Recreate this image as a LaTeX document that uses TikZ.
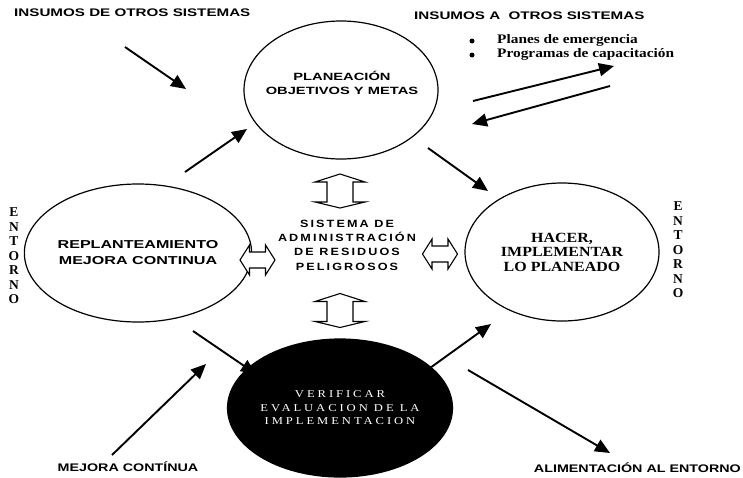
\documentclass[tikz,border=0pt]{standalone}
\usepackage{fontspec}
\setmainfont{Liberation Serif}
\newfontfamily\widesans{Liberation Sans}[FakeStretch=1.38]
\newfontfamily\lowsans{Liberation Sans}[FakeStretch=1.3]
\newfontfamily\ellsans{Liberation Sans}[FakeStretch=1.4]
\newfontfamily\coresans{Liberation Sans}[FakeStretch=1.2,LetterSpace=20]
\newfontfamily\boldserif{Liberation Serif}[FakeStretch=1.14]
\newfontfamily\listserif{Liberation Serif}[FakeStretch=1.18]
\newfontfamily\thinserif{Liberation Serif}[FakeStretch=1.2,LetterSpace=28]
\usetikzlibrary{arrows.meta,shapes.geometric}

\tikzset{
  phase/.style={ellipse, draw, line width=1.2pt, minimum width=194pt,
    minimum height=138pt, inner sep=0pt, align=center},
  corner/.style={inner sep=0pt, font=\widesans\bfseries\fontsize{11}{13}\selectfont},
  lowcorner/.style={inner sep=0pt, font=\lowsans\bfseries\fontsize{11}{13}\selectfont},
  flow/.style={line width=1.9pt, -{Triangle[length=15pt,width=13pt]}},
  hollow/.style={draw, line width=1.1pt, line join=miter, fill=white},
  vdbl/.pic={\path[hollow] (0,-17) -- (25,-9) -- (13,-9) -- (13,11) -- (25,11)
      -- (0,17) -- (-25,11) -- (-13,11) -- (-13,-9) -- (-25,-9) -- cycle;},
  hdbl/.pic={\path[hollow] (-17.5,0) -- (-8,-15) -- (-8,-8) -- (8,-8) -- (8,-15)
      -- (17.5,0) -- (8,15) -- (8,8) -- (-8,8) -- (-8,15) -- cycle;},
  side/.style={inner sep=0pt, align=center,
    font=\bfseries\fontsize{13.5}{14.5}\selectfont},
  dot/.style={circle, fill=black, inner sep=0pt, minimum size=5pt},
  listitem/.style={inner sep=0pt, anchor=west,
    font=\listserif\bfseries\fontsize{13}{14}\selectfont}
}

\begin{document}
\begin{tikzpicture}[x=1pt,y=-1pt]
\useasboundingbox (0,0) rectangle (743,477);

% the four phases of the cycle
\node[phase] (plan) at (341,90) {};
\node[inner sep=0pt, align=center, font=\ellsans\bfseries\fontsize{10.5}{14}\selectfont]
  (plantext) at (342,83) {PLANEACIÓN\\OBJETIVOS Y METAS};
\node[phase, font=\ellsans\bfseries\fontsize{11.5}{16}\selectfont] (repl) at (138,253)
  {REPLANTEAMIENTO\\MEJORA CONTINUA};
\node[phase, font=\boldserif\bfseries\fontsize{14}{14.5}\selectfont] (hacer) at (562,252)
  {HACER,\\IMPLEMENTAR\\LO PLANEADO};
\node[phase, fill=black, text=white, font=\thinserif\fontsize{10.5}{13.5}\selectfont]
  (verif) at (340,408) {VERIFICAR\\EVALUACION DE LA\\IMPLEMENTACION};

% central system
\node[inner sep=0pt, align=center, font=\coresans\bfseries\fontsize{10.5}{14.4}\selectfont]
  (sys) at (347,245) {SISTEMA DE\\ADMINISTRACIÓN\\DE RESIDUOS\\PELIGROSOS};

% hollow two-way arrows around the system
\pic at (340,191) {vdbl};
\pic at (340,310.5) {vdbl};
\pic at (257.5,260) {hdbl};
\pic at (440,254) {hdbl};

% corner labels
\node[corner, anchor=west] (insde) at (14,13) {INSUMOS DE OTROS SISTEMAS};
\node[corner, anchor=west] (insa) at (414,16) {INSUMOS A\ \ OTROS SISTEMAS};
\node[lowcorner] (mejora) at (128,467) {MEJORA CONTÍNUA};
\node[lowcorner, anchor=east] (alim) at (741,468) {ALIMENTACIÓN AL ENTORNO};

% outputs list
\node[dot] (b1) at (472,41) {};
\node[dot] (b2) at (472,55) {};
\node[listitem] (l1) at (497,40) {Planes de emergencia};
\node[listitem] (l2) at (497,54) {Programas de capacitación};

% environment on both sides
\node[side] (entl) at (14,256) {E\\N\\T\\O\\R\\N\\O};
\node[side] (entr) at (678,250) {E\\N\\T\\O\\R\\N\\O};

% arrow end points
\coordinate (inA) at (125,47);   \coordinate (inB) at (186,89);
\coordinate (ltA) at (185,172);  \coordinate (ltB) at (247,129);
\coordinate (trA) at (428,148);  \coordinate (trB) at (488,191);
\coordinate (blA) at (193,331);  \coordinate (blB) at (256,374);
\coordinate (brA) at (430,368);  \coordinate (brB) at (491,324);
\coordinate (mjA) at (112,455);  \coordinate (mjB) at (206,364);
\coordinate (alA) at (468,370);  \coordinate (alB) at (610,453);
\coordinate (outA) at (473,101); \coordinate (outB) at (614,66);
\coordinate (bkA) at (610,86);   \coordinate (bkB) at (472,124);

\draw[flow] (inA) -- (inB);
\draw[flow] (ltA) -- (ltB);
\draw[flow] (trA) -- (trB);
\draw[flow] (blA) -- (blB);
\draw[flow] (brA) -- (brB);
\draw[flow] (mjA) -- (mjB);
\draw[flow] (alA) -- (alB);
\draw[flow] (outA) -- (outB);
\draw[flow] (bkA) -- (bkB);
\end{tikzpicture}
\end{document}
